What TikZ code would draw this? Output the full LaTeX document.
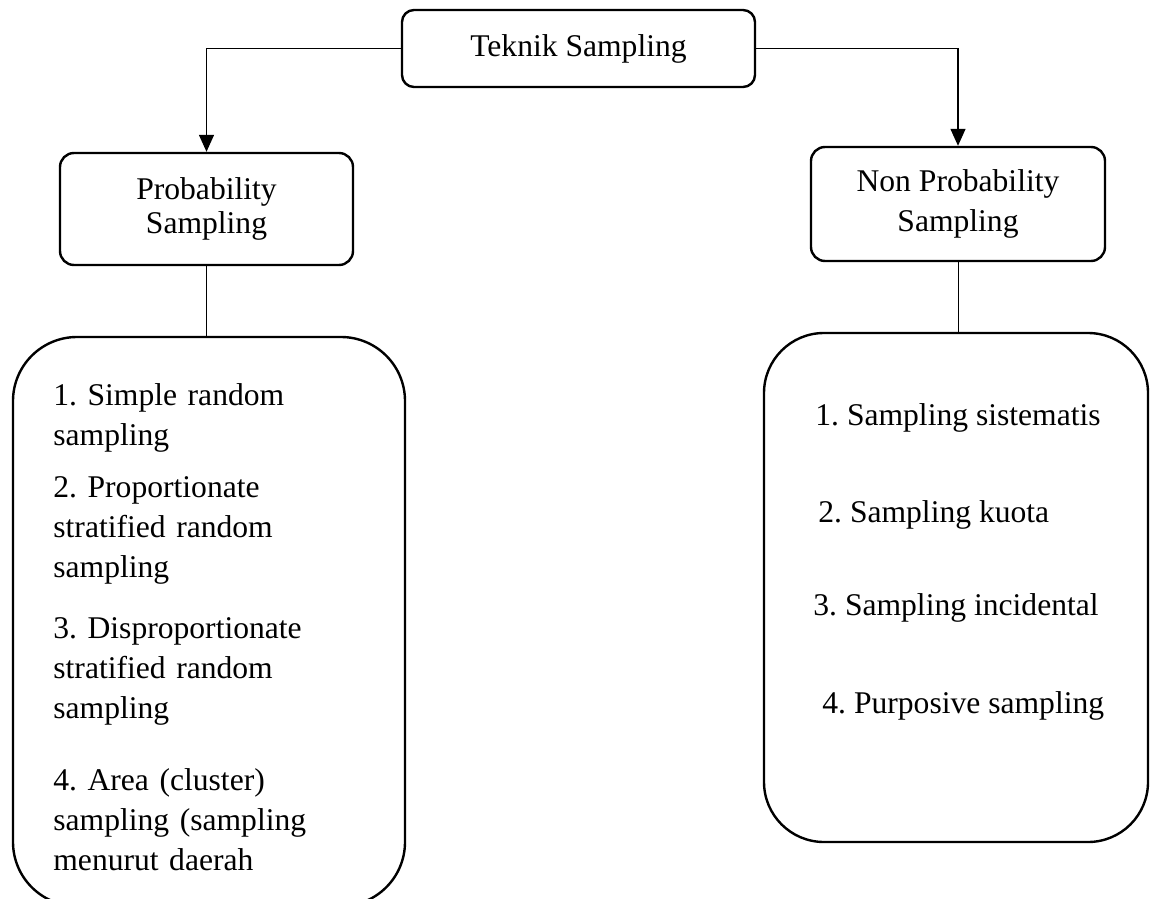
\documentclass[tikz,border=0pt]{standalone}
\usepackage{fontspec}
\setmainfont{Liberation Serif}
\usetikzlibrary{arrows.meta,positioning}

\begin{document}
\frenchspacing
\begin{tikzpicture}[x=0.5pt,y=-0.5pt,
    box/.style={draw,line width=1.2pt,rounded corners=7pt,align=center,inner sep=0pt,
      font=\fontsize{15.8pt}{20pt}\selectfont},
    listbox/.style={draw,line width=1.2pt,rounded corners=32pt,inner sep=0pt},
    item/.style={anchor=base west,inner sep=0pt,align=left,
      font=\fontsize{15.8pt}{20pt}\selectfont\frenchspacing},
    arrow/.style={line width=0.7pt,-{Triangle[length=8.5pt,width=7.5pt]}},
    link/.style={line width=0.5pt}]
  \useasboundingbox (0,0) rectangle (1151,899);
  \node[box,rounded corners=6pt,minimum width=176.5pt,minimum height=38.5pt] (teknik) at (578.5,48.5) {Teknik Sampling};
  \node[box,minimum width=146.5pt,minimum height=56pt,font=\fontsize{15.8pt}{17pt}\selectfont] (prob) at (206.5,209) {Probability\\Sampling};
  \node[box,minimum width=147pt,minimum height=57pt] (nonprob) at (958,204) {Non Probability\\Sampling};
  \node[listbox,minimum width=196pt,minimum height=284.5pt] (problist) at (209,621.5) {};
  \node[listbox,rounded corners=30pt,minimum width=192pt,minimum height=254.5pt] (nonproblist) at (956,587.5) {};
  \node[item,text width=150pt] (p1) at (53,405) {1. Simple random\\sampling};
  \node[item,text width=150pt] (p2) at (53,497) {2. Proportionate\\stratified random\\sampling};
  \node[item,text width=150pt] (p3) at (53,638) {3. Disproportionate\\stratified random\\sampling};
  \node[item,text width=150pt] (p4) at (53,790) {4. Area (cluster)\\sampling (sampling\\menurut daerah};
  \node[item] (n1) at (815,425) {1. Sampling sistematis};
  \node[item] (n2) at (818,522) {2. Sampling kuota};
  \node[item] (n3) at (813,615) {3. Sampling incidental};
  \node[item] (n4) at (822,713) {4. Purposive sampling};
  \draw[arrow] (teknik.west) -| (prob.north);
  \draw[arrow] (teknik.east) -| (nonprob.north);
  \draw[link] (prob.south) -- (prob.south |- problist.north);
  \draw[link] (nonprob.south) -- (nonprob.south |- nonproblist.north);
\end{tikzpicture}
\end{document}
